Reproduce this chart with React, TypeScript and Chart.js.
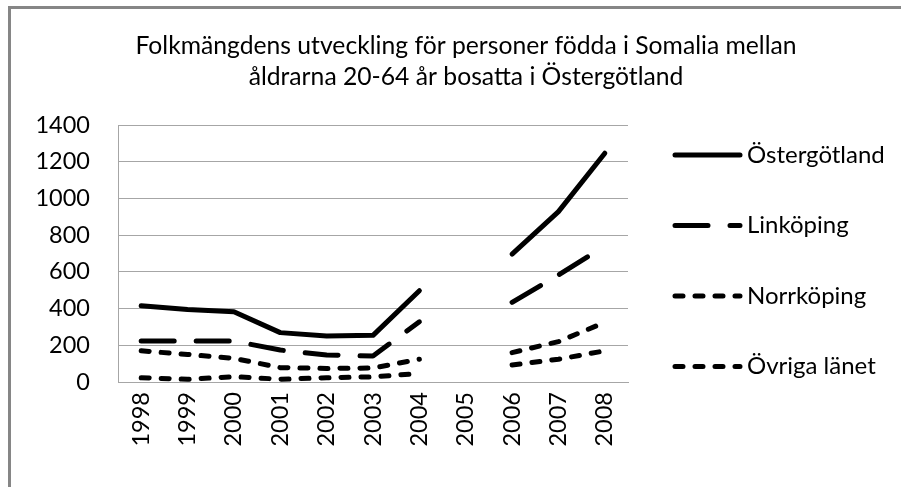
import React, { useEffect, useRef } from "react";
import { Chart, registerables } from "chart.js";

Chart.register(...registerables);

const categories = ["1998", "1999", "2000", "2001", "2002", "2003", "2004", "2005", "2006", "2007", "2008"];
const ostergotland = [416, 395, 383, 269, 250, 254, 497, null, 697, 928, 1246];
const linkoping = [223, 223, 223, 174, 147, 142, 328, null, 434, 583, 740];
const norrkoping = [170, 150, 129, 78, 74, 76, 124, null, 160, 220, 325];
const ovrigaLanet = [23, 15, 29, 15, 23, 28, 47, null, 93, 124, 170];
const seriesNames = ["Östergötland", "Linköping", "Norrköping", "Övriga länet"];
const titleLines = [
  "Folkmängdens utveckling för personer födda i Somalia mellan",
  "åldrarna 20-64 år bosatta i Östergötland",
];
const yTicks = [0, 200, 400, 600, 800, 1000, 1200, 1400];

const FONT = "Lato";

const titlePlugin = {
  id: "customTitle",
  afterDraw(chart: any) {
    const ctx = chart.ctx;
    ctx.save();
    ctx.fillStyle = "#000";
    ctx.font = `24.7px ${FONT}`;
    ctx.textAlign = "center";
    ctx.textBaseline = "middle";
    titleLines.forEach((line, i) => {
      ctx.fillText(line, 466, 46 + i * 31);
    });
    ctx.restore();
  },
};

const legendPlugin = {
  id: "customLegend",
  afterDraw(chart: any) {
    const ctx = chart.ctx;
    ctx.save();
    chart.data.datasets.forEach((ds: any, i: number) => {
      const y = 155 + i * 70.5;
      ctx.strokeStyle = ds.borderColor;
      ctx.lineWidth = ds.borderWidth;
      ctx.lineCap = ds.borderCapStyle;
      ctx.setLineDash(ds.borderDash || []);
      ctx.beginPath();
      ctx.moveTo(675, y);
      ctx.lineTo(740, y);
      ctx.stroke();
      ctx.setLineDash([]);
      ctx.fillStyle = "#000";
      ctx.font = `24px ${FONT}`;
      ctx.textAlign = "left";
      ctx.textBaseline = "middle";
      ctx.fillText(ds.label, 747, y);
    });
    ctx.restore();
  },
};

export default function App() {
  const ref = useRef<HTMLCanvasElement>(null);
  useEffect(() => {
    if (!ref.current) return;
    const common = {
      borderColor: "#000",
      borderWidth: 5,
      borderCapStyle: "round",
      borderJoinStyle: "round",
      pointRadius: 0,
      pointHoverRadius: 0,
      spanGaps: false,
      fill: false,
      tension: 0,
    };
    const chart = new Chart(ref.current, {
      type: "line",
      data: {
        labels: categories,
        datasets: [
          { ...common, label: seriesNames[0], data: ostergotland, borderDash: [] },
          { ...common, label: seriesNames[1], data: linkoping, borderDash: [33, 22] },
          { ...common, label: seriesNames[2], data: norrkoping, borderDash: [8, 12] },
          { ...common, label: seriesNames[3], data: ovrigaLanet, borderDash: [8, 12] },
        ],
      } as any,
      options: {
        animation: false,
        responsive: false,
        maintainAspectRatio: false,
        layout: { padding: { left: 0, right: 273, top: 125, bottom: 0 } },
        plugins: {
          legend: { display: false },
          title: { display: false },
          tooltip: { enabled: false },
        },
        scales: {
          x: {
            offset: true,
            grid: { display: false, drawTicks: false },
            border: { display: true, color: "#a6a6a6", width: 1 },
            ticks: {
              color: "#000",
              font: { family: FONT, size: 23.5 },
              maxRotation: 90,
              minRotation: 90,
              padding: 10,
              autoSkip: false,
            },
            afterFit(scale: any) {
              scale.height = 105;
            },
          },
          y: {
            min: 0,
            max: 1400,
            afterBuildTicks(scale: any) {
              scale.ticks = yTicks.map((v) => ({ value: v }));
            },
            grid: { color: "#a6a6a6", lineWidth: 1, drawTicks: false },
            border: { display: true, color: "#a6a6a6", width: 1 },
            ticks: {
              color: "#000",
              font: { family: FONT, size: 23.5 },
              padding: 28,
              callback: (v: any) => String(v),
            },
            afterFit(scale: any) {
              scale.width = 118;
            },
          },
        },
      } as any,
      plugins: [titlePlugin, legendPlugin],
    });
    return () => chart.destroy();
  }, []);
  return (
    <div style={{ position: "fixed", left: 0, top: 0, width: 901, height: 487, background: "#fff", overflow: "hidden" }}>
      <canvas ref={ref} width={901} height={487} style={{ position: "absolute", left: 0, top: 0, width: 901, height: 487 }} />
      <div
        style={{
          position: "absolute",
          left: 8,
          top: 6,
          width: 1000,
          height: 1000,
          borderLeft: "3px solid #868686",
          borderTop: "3px solid #868686",
          boxSizing: "border-box",
        }}
      />
    </div>
  );
}
